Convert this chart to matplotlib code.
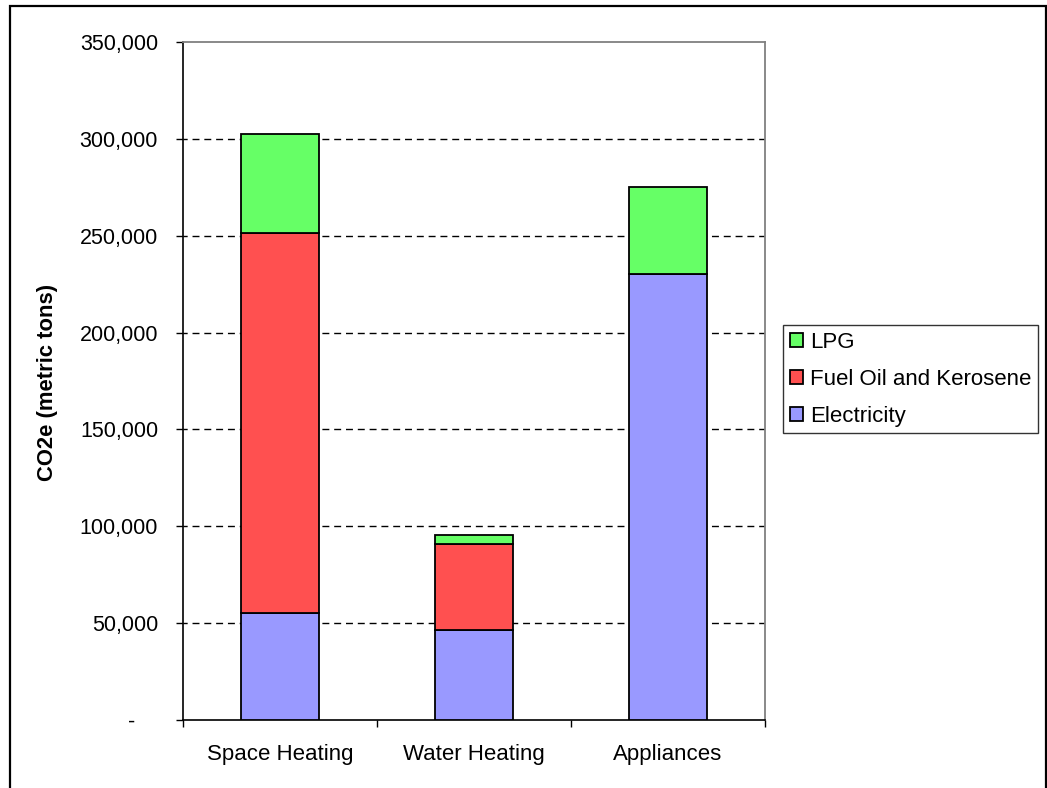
import matplotlib
matplotlib.use("Agg")
import matplotlib.pyplot as plt
from matplotlib.patches import Rectangle
from matplotlib.transforms import ScaledTranslation
from matplotlib.ticker import FuncFormatter

plt.rcParams["font.family"] = ["Liberation Sans", "DejaVu Sans"]

# data (metric tons CO2e)
categories = ["Space Heating", "Water Heating", "Appliances"]
electricity = [55000, 46500, 230000]
fuel_oil = [196500, 44500, 0]
lpg = [51000, 4500, 45000]
series_names = ["Electricity", "Fuel Oil and Kerosene", "LPG"]
series_colors = ["#9999FF", "#FF5050", "#66FF66"]
y_ticks = [0, 50000, 100000, 150000, 200000, 250000, 300000, 350000]

W, H = 1047, 788
fig = plt.figure(figsize=(W / 100, H / 100), dpi=100)
ax = fig.add_axes([183 / W, 1 - 720 / H, (765 - 183) / W, (720 - 42) / H])

x = range(len(categories))
bottoms = [0] * len(categories)
handles = []
for vals, name, col in zip([electricity, fuel_oil, lpg], series_names, series_colors):
    bars = ax.bar(x, vals, 0.4, bottom=bottoms, color=col, edgecolor="black",
                  linewidth=1.3, label=name, zorder=3)
    handles.append(bars)
    bottoms = [b + v for b, v in zip(bottoms, vals)]

ax.set_xlim(-0.5, 2.5)
ax.set_ylim(0, 350000)
ax.set_yticks(y_ticks)
ax.yaxis.set_major_formatter(FuncFormatter(lambda v, p: "-" if v == 0 else f"{int(v):,}"))

# gridlines at the inner ticks only
for t in y_ticks[1:-1]:
    ax.axhline(t, color="black", linewidth=1.0, linestyle=(2, (5, 3.5)), zorder=1)

ax.set_xticks([i + 0.5 for i in range(-1, len(categories))])
ax.set_xticklabels([])
ax.set_xticks(list(x), minor=True)
ax.set_xticklabels(categories, minor=True, fontsize=16)
ax.tick_params(axis="x", which="minor", length=0, pad=17)
ax.tick_params(axis="x", which="major", direction="out", length=5, width=1)
ax.tick_params(axis="y", direction="out", length=5, width=1, pad=13, labelsize=15.5)

for s in ["top", "right"]:
    ax.spines[s].set_color("#808080")
    ax.spines[s].set_linewidth(1.3)
for s in ["left", "bottom"]:
    ax.spines[s].set_linewidth(1.2)

# excel-style dash for zero sits further left
zero_lbl = ax.get_yticklabels()[0]
zero_lbl.set_transform(zero_lbl.get_transform() + ScaledTranslation(-0.23, 0, fig.dpi_scale_trans))

fig.text(48 / W, 1 - 382 / H, "CO2e (metric tons)", rotation=90, ha="center", va="center",
         fontsize=15.8, fontweight="bold")

leg = fig.legend(handles[::-1], series_names[::-1], loc="upper left",
                 bbox_to_anchor=(783 / W, 1 - 325 / H), fontsize=16, frameon=True,
                 fancybox=False, edgecolor="black", handlelength=0.6, handleheight=0.6,
                 handletextpad=0.3, labelspacing=0.72, borderpad=0.3, borderaxespad=0)
leg.get_frame().set_linewidth(1.0)

# outer chart border
fig.patches.append(Rectangle((10 / W, -0.05), (1046 - 10) / W, 1 - 6 / H + 0.05,
                             transform=fig.transFigure, fill=False, edgecolor="black",
                             linewidth=1.6, clip_on=False))

fig.savefig("out.png", dpi=100)
